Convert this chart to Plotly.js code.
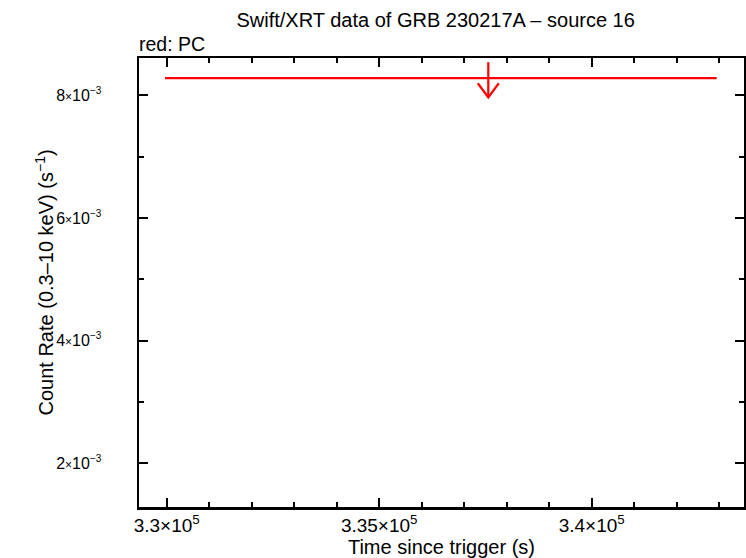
<!DOCTYPE html>
<html>
<head>
<meta charset="utf-8">
<script src="https://cdn.plot.ly/plotly-3.0.1.min.js"></script>
<style>html,body{margin:0;padding:0;background:#fff;}#chart{width:746px;height:558px;}</style>
</head>
<body>
<div id="chart"></div>
<script>
// Data: one PC-mode upper limit
const pcTime = [337567];          // bin centre (s since trigger)
const pcTimeErrMinus = [7607];    // half-width to bin start
const pcTimeErrPlus = [5374];     // half-width to bin end
const pcRateUL = [8.282e-3];      // count-rate upper limit (s^-1)

const xTickVals = [330000, 335000, 340000];
const xTickText = ['3.3×10<sup>5</sup>', '3.35×10<sup>5</sup>', '3.4×10<sup>5</sup>'];
const yTickVals = [0.002, 0.004, 0.006, 0.008];
const yTickMant = ['2', '4', '6', '8'];
const yTickExp = '−3';

// arrow geometry (style, relative to the limit value)
const ARROW_TOP = 1.0315, ARROW_TIP = 0.962, HEAD_Y = 0.990, HEAD_DX = 247;

const red = '#ff0000';
const font = 'Liberation Sans, Arial, Helvetica, sans-serif';

const yTickText = yTickMant.map(m =>
  m + '<span style="font-size:12px">×</span>10<sup><span style="font-size:10px">' + yTickExp + '</span></sup>');

const traces = [];
// horizontal bin bar
traces.push({
  x: pcTime, y: pcRateUL, type: 'scatter', mode: 'markers',
  marker: {size: 0.1, color: red, opacity: 0},
  error_x: {type: 'data', symmetric: false, array: pcTimeErrPlus, arrayminus: pcTimeErrMinus,
            color: red, thickness: 2.2, width: 0},
  hoverinfo: 'skip', showlegend: false
});
// downward arrows
const ax = [], ay = [];
pcTime.forEach((t, i) => {
  const v = pcRateUL[i];
  ax.push(t, t, null, t - HEAD_DX, t, t + HEAD_DX, null);
  ay.push(v * ARROW_TOP, v * ARROW_TIP, null, v * HEAD_Y, v * ARROW_TIP, v * HEAD_Y, null);
});
traces.push({
  x: ax, y: ay, type: 'scatter', mode: 'lines',
  line: {color: red, width: 2.2}, connectgaps: false,
  hoverinfo: 'skip', showlegend: false
});

const axisCommon = {
  showline: true, linecolor: '#000', linewidth: 2.5, mirror: 'allticks',
  ticks: 'inside', ticklen: 9, tickwidth: 2, tickcolor: '#000',
  showgrid: false, zeroline: false,
  tickmode: 'array'
};

const layout = {
  width: 746, height: 558,
  paper_bgcolor: '#fff', plot_bgcolor: '#fff',
  margin: {l: 139, r: 2, t: 58, b: 51, pad: 0},
  showlegend: false,
  title: {text: 'Swift/XRT data of GRB 230217A – source 16', font: {family: font, size: 20, color: '#000'},
          xref: 'container', x: 0.584, xanchor: 'center', yref: 'container', y: 0.965, yanchor: 'middle'},
  xaxis: Object.assign({}, axisCommon, {
    range: [329348, 343584],
    tickvals: xTickVals, ticktext: xTickText,
    tickfont: {family: font, size: 19, color: '#000'},
    minor: {dtick: 1000, tick0: 0, ticks: 'inside', ticklen: 5, tickwidth: 2, tickcolor: '#000', showgrid: false},
    title: {text: 'Time since trigger (s)', font: {family: font, size: 20, color: '#000'}, standoff: 2},
    ticklabelstandoff: 0
  }),
  yaxis: Object.assign({}, axisCommon, {
    range: [0.001284, 0.008611],
    tickvals: yTickVals, ticktext: yTickText,
    tickfont: {family: font, size: 16, color: '#000'},
    minor: {dtick: 0.001, tick0: 0, ticks: 'inside', ticklen: 5, tickwidth: 2, tickcolor: '#000', showgrid: false},
    ticklabelstandoff: 32
  }),
  annotations: [{
    text: 'red: PC', xref: 'paper', yref: 'paper', x: 0, y: 1, xanchor: 'left', yanchor: 'bottom',
    xshift: -2, yshift: 1, showarrow: false, font: {family: font, size: 19.5, color: '#000'}
  }, {
    text: 'Count Rate (0.3–10 keV) (s<sup>−1</sup>)', xref: 'paper', yref: 'paper', x: 0, y: 0.5,
    xanchor: 'center', yanchor: 'middle', xshift: -95, textangle: -90, showarrow: false,
    font: {family: font, size: 20, color: '#000'}
  }]
};

Plotly.newPlot('chart', traces, layout, {staticPlot: true, displayModeBar: false});
</script>
</body>
</html>
